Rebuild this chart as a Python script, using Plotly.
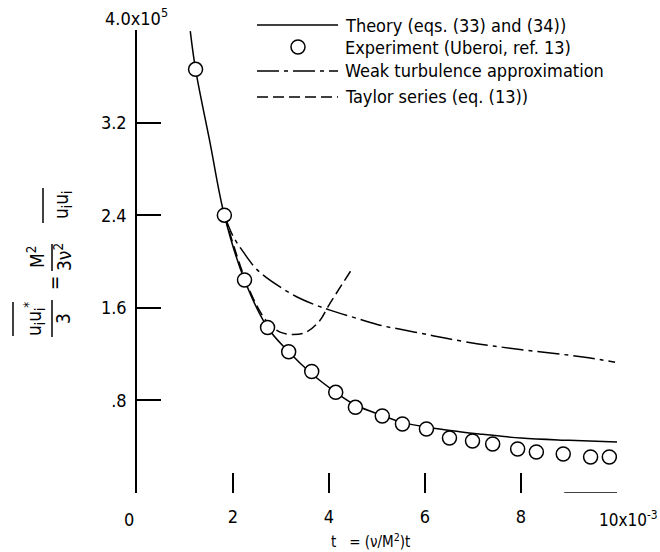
import plotly.graph_objects as go

# ---------------- data (t in units of 1e-3, value in units of 1e5) ----------------
exp_t = [1.22, 1.82, 2.24, 2.72, 3.16, 3.64, 4.14, 4.55, 5.11, 5.53, 6.03, 6.51,
         6.99, 7.41, 7.93, 8.32, 8.88, 9.45, 9.84]
exp_y = [3.66, 2.40, 1.84, 1.43, 1.22, 1.05, 0.87, 0.74, 0.665, 0.596, 0.553, 0.475,
         0.449, 0.423, 0.38, 0.354, 0.337, 0.311, 0.311]

theory_t = [1.11, 1.22, 1.52, 1.82, 2.24, 2.72, 3.16, 3.64, 4.14, 4.55, 5.11, 5.53,
            6.03, 6.72, 7.13, 8.0, 9.0, 10.0]
theory_y = [3.99, 3.66, 3.03, 2.40, 1.84, 1.43, 1.22, 1.03, 0.87, 0.76, 0.67, 0.61,
            0.57, 0.53, 0.51, 0.475, 0.455, 0.44]

weak_t = [1.82, 2.0, 2.21, 2.5, 2.98, 3.4, 3.81, 4.02, 4.65, 5.06, 5.54, 6.1, 6.52,
          7.08, 7.42, 7.98, 9.29, 9.96]
weak_y = [2.40, 2.22, 2.085, 1.93, 1.78, 1.68, 1.61, 1.58, 1.50, 1.45, 1.41, 1.365,
          1.33, 1.29, 1.27, 1.24, 1.175, 1.13]

taylor_t = [1.82, 2.24, 2.52, 2.75, 2.98, 3.26, 3.53, 3.81, 3.98, 4.16, 4.47]
taylor_y = [2.40, 1.86, 1.60, 1.46, 1.39, 1.37, 1.39, 1.49, 1.61, 1.73, 1.93]

x_tickvals = [2, 4, 6, 8, 10]
x_ticktext = ["2", "4", "6", "8", ""]
y_tickvals = [0.8, 1.6, 2.4, 3.2, 4.0]
y_ticktext = [".8", "1.6", "2.4", "3.2", ""]

legend_names = ["Theory (eqs. (33) and (34))",
                "Experiment (Uberoi, ref. 13)",
                "Weak turbulence approximation",
                "Taylor series (eq. (13))"]

# ---------------- layout geometry ----------------
W, H = 660, 552
ML, MR, MT, MB = 137, 43, 30, 59
PW, PH = W - ML - MR, H - MT - MB
FONT = "Liberation Sans Narrow, DejaVu Sans Condensed, Arial Narrow, sans-serif"
WEAK_DASH = "22px,5px,4px,5px"
TAYLOR_DASH = "11px,5px"


def xp(px):
    return (px - ML) / PW


def yp(py):
    return (H - MB - py) / PH


fig = go.Figure()
fig.add_trace(go.Scatter(x=theory_t, y=theory_y, mode="lines", line_shape="spline",
                         line=dict(color="black", width=1.5), name=legend_names[0]))
fig.add_trace(go.Scatter(x=weak_t, y=weak_y, mode="lines", line_shape="spline",
                         line=dict(color="black", width=1.5, dash=WEAK_DASH),
                         name=legend_names[2]))
fig.add_trace(go.Scatter(x=taylor_t, y=taylor_y, mode="lines", line_shape="spline",
                         line=dict(color="black", width=1.5, dash=TAYLOR_DASH),
                         name=legend_names[3]))
fig.add_trace(go.Scatter(x=exp_t, y=exp_y, mode="markers",
                         marker=dict(symbol="circle", size=14, color="white",
                                     line=dict(color="black", width=1.5)),
                         name=legend_names[1]))

shapes = []
annotations = []

# x-axis end segment (8.9 .. 10 at baseline)
shapes.append(dict(type="line", xref="x", yref="y", x0=8.9, x1=10, y0=0, y1=0,
                   line=dict(color="black", width=1.5)))

# legend (manual, long line samples)
rows = [25, 47, 71, 97]
lx0, lx1, tx = 257, 338, 343
shapes.append(dict(type="line", xref="paper", yref="paper", x0=xp(lx0), x1=xp(lx1),
                   y0=yp(rows[0]), y1=yp(rows[0]), line=dict(color="black", width=1.5)))
shapes.append(dict(type="circle", xref="paper", yref="paper",
                   x0=xp(298 - 7), x1=xp(298 + 7), y0=yp(rows[1] + 7), y1=yp(rows[1] - 7),
                   line=dict(color="black", width=1.5)))
shapes.append(dict(type="line", xref="paper", yref="paper", x0=xp(lx0), x1=xp(lx1),
                   y0=yp(rows[2]), y1=yp(rows[2]),
                   line=dict(color="black", width=1.5, dash=WEAK_DASH)))
shapes.append(dict(type="line", xref="paper", yref="paper", x0=xp(lx0), x1=xp(lx1),
                   y0=yp(rows[3]), y1=yp(rows[3]),
                   line=dict(color="black", width=1.5, dash=TAYLOR_DASH)))
for r, name in zip(rows, legend_names):
    annotations.append(dict(xref="paper", yref="paper", x=xp(tx), y=yp(r), text=name,
                            showarrow=False, xanchor="left", yanchor="middle",
                            font=dict(family=FONT, size=18, color="black")))

# top y label and x-axis special labels
annotations.append(dict(xref="paper", yref="paper", x=xp(103), y=yp(31),
                        text="4.0x10<sup>5</sup>", showarrow=False,
                        xanchor="left", yanchor="bottom",
                        font=dict(family=FONT, size=18, color="black")))
annotations.append(dict(xref="paper", yref="paper", x=xp(129), y=yp(519), text="0",
                        showarrow=False, xanchor="center", yanchor="middle",
                        font=dict(family=FONT, size=18, color="black")))
annotations.append(dict(xref="paper", yref="paper", x=xp(597), y=yp(519),
                        text="10x10<sup>-3</sup>", showarrow=False,
                        xanchor="left", yanchor="middle",
                        font=dict(family=FONT, size=17, color="black")))
# x title
annotations.append(dict(xref="paper", yref="paper", x=xp(370), y=yp(541),
                        text="t   = (ν/M<sup>2</sup>)t", showarrow=False,
                        xanchor="center", yanchor="middle",
                        font=dict(family=FONT, size=15, color="black")))

# y title built from rotated pieces
TF = dict(family=FONT, size=19, color="black")


def rot(px, py, text):
    annotations.append(dict(xref="paper", yref="paper", x=xp(px), y=yp(py), text=text,
                            showarrow=False, textangle=-90, xanchor="center",
                            yanchor="middle", font=TF))


def vline(px, py0, py1, w=1.5):
    shapes.append(dict(type="line", xref="paper", yref="paper", x0=xp(px), x1=xp(px),
                       y0=yp(py0), y1=yp(py1), line=dict(color="black", width=w)))


rot(34, 319, "u<sub>i</sub>u<sub>i</sub><sup>*</sup>")
vline(13, 302, 336)
vline(52, 300, 337)
rot(63, 319, "3")
rot(54, 283, "=")
rot(36, 257, "M<sup>2</sup>")
vline(52, 244, 271)
rot(63, 257, "3ν<sup>2</sup>")
rot(62, 205, "u<sub>i</sub>u<sub>i</sub>")
vline(43, 188, 223)

fig.update_layout(
    width=W, height=H,
    margin=dict(l=ML, r=MR, t=MT, b=MB, pad=0),
    paper_bgcolor="white", plot_bgcolor="white",
    showlegend=False,
    shapes=shapes, annotations=annotations,
    font=dict(family=FONT, size=18, color="black"),
)
fig.update_xaxes(range=[0, 10], showgrid=False, zeroline=False, showline=False,
                 tickvals=x_tickvals, ticktext=x_ticktext, ticks="inside", ticklen=20,
                 tickwidth=1.5, tickcolor="black", ticklabelstandoff=11,
                 tickfont=dict(family=FONT, size=18, color="black"))
fig.update_yaxes(range=[0, 4], showgrid=False, zeroline=False, showline=True,
                 linecolor="black", linewidth=1.5,
                 tickvals=y_tickvals, ticktext=y_ticktext, ticks="inside", ticklen=24,
                 tickwidth=1.5, tickcolor="black", ticklabelstandoff=5,
                 tickfont=dict(family=FONT, size=18, color="black"))

fig.write_html("out.html")
